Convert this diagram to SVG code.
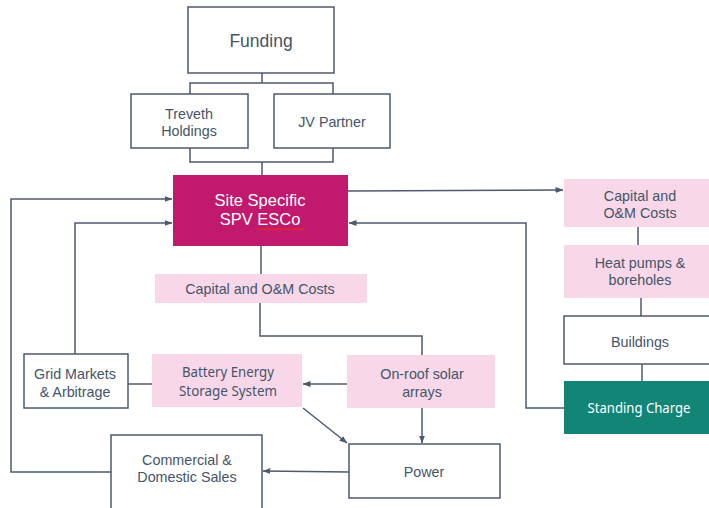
<svg xmlns="http://www.w3.org/2000/svg" width="709" height="508" viewBox="0 0 709 508">
  <style>
    .box { fill: #ffffff; stroke: #4d5a6e; stroke-width: 1.5; }
    .pink { fill: #f8d8e8; }
    .spv { fill: #c0196e; }
    .teal { fill: #138577; }
    .t { font-family: "Liberation Sans", Arial, sans-serif; font-size: 14.3px; fill: #44546a; text-anchor: middle; }
    .c { font-family: "Noto Sans", "Open Sans", sans-serif; font-size: 15px; fill: #44546a; text-anchor: middle; }
    .big { font-size: 17.5px; }
    .title { font-size: 16.5px; }
    .w { fill: #ffffff; }
    .ln { fill: none; stroke: #4d5a6e; stroke-width: 1.5; }
  </style>
  <defs>
    <marker id="arr" viewBox="0 0 8 8" refX="7.5" refY="4" markerWidth="8" markerHeight="8" markerUnits="userSpaceOnUse" orient="auto">
      <path d="M0,1 L8,4 L0,7 Z" fill="#4d5a6e"/>
    </marker>
  </defs>
  <rect width="709" height="508" fill="#ffffff"/>

  <!-- connectors -->
  <g id="connectors">
    <path class="ln" d="M262,73 V83 M190,94 V83 H333 V94"/>
    <path class="ln" d="M190,148 V162 H333 V148 M262,162 V175"/>
    <path class="ln" d="M261,246 V274"/>
    <path class="ln" d="M260,303 V336 H422 V355"/>
    <path class="ln" d="M348,191 L563,190" marker-end="url(#arr)"/>
    <path class="ln" d="M638,227 V245"/>
    <path class="ln" d="M641,298 V316"/>
    <path class="ln" d="M642,364 V381"/>
    <path class="ln" d="M564,408 H526 V223 H349" marker-end="url(#arr)"/>
    <path class="ln" d="M111,472 H11 V199 H172" marker-end="url(#arr)"/>
    <path class="ln" d="M75,354 V223 H172" marker-end="url(#arr)"/>
    <path class="ln" d="M128,384 H152"/>
    <path class="ln" d="M347,384 H303" marker-end="url(#arr)"/>
    <path class="ln" d="M422,408 V443" marker-end="url(#arr)"/>
    <path class="ln" d="M303,408 L347,443" marker-end="url(#arr)"/>
    <path class="ln" d="M349,472 L263,471" marker-end="url(#arr)"/>
  </g>

  <g id="funding">
    <rect class="box" x="188" y="7" width="146" height="66"/>
    <text class="t big" x="261" y="47">Funding</text>
  </g>
  <g id="treveth">
    <rect class="box" x="131" y="94" width="117" height="54"/>
    <text class="t" x="189" y="119">Treveth</text>
    <text class="t" x="189" y="136">Holdings</text>
  </g>
  <g id="jv-partner">
    <rect class="box" x="274" y="94" width="116" height="54"/>
    <text class="t" x="332" y="127">JV Partner</text>
  </g>
  <g id="spv-esco">
    <rect class="spv" x="173" y="175" width="175" height="71"/>
    <text class="t title w" x="260" y="206">Site Specific</text>
    <text class="t title w" x="260" y="225">SPV ESCo</text>
    <!-- spell-check squiggle under "ESCo" -->
    <path d="M257,230 l2,-1.6 l2,1.6 l2,-1.6 l2,1.6 l2,-1.6 l2,1.6 l2,-1.6 l2,1.6 l2,-1.6 l2,1.6 l2,-1.6 l2,1.6 l2,-1.6 l2,1.6 l2,-1.6 l2,1.6 l2,-1.6 l2,1.6 l2,-1.6 l2,1.6 l2,-1.6 l2,1.6 l2,-1.6 l2,1.6" fill="none" stroke="#e8262a" stroke-width="1.1"/>
  </g>
  <g id="capital-costs-site">
    <rect class="pink" x="155" y="274" width="212" height="29"/>
    <text class="t" x="260" y="294">Capital and O&amp;M Costs</text>
  </g>
  <g id="capital-costs-heat">
    <rect class="pink" x="564" y="179" width="150" height="48"/>
    <text class="t" x="640" y="201">Capital and</text>
    <text class="t" x="640" y="218">O&amp;M Costs</text>
  </g>
  <g id="heat-pumps">
    <rect class="pink" x="564" y="245" width="150" height="53"/>
    <text class="t" x="640" y="268">Heat pumps &amp;</text>
    <text class="t" x="640" y="285">boreholes</text>
  </g>
  <g id="buildings">
    <rect class="box" x="564" y="316" width="150" height="48"/>
    <text class="t" x="640" y="347">Buildings</text>
  </g>
  <g id="standing-charge">
    <rect class="teal" x="564" y="381" width="150" height="53"/>
    <text class="c w" x="639" y="413" textLength="103" lengthAdjust="spacingAndGlyphs">Standing Charge</text>
  </g>
  <g id="grid-markets">
    <rect class="box" x="24" y="354" width="104" height="54"/>
    <text class="t" x="75" y="379">Grid Markets</text>
    <text class="t" x="75" y="397">&amp; Arbitrage</text>
  </g>
  <g id="bess">
    <rect class="pink" x="152" y="354" width="150" height="53"/>
    <text class="c" x="228" y="377" textLength="92" lengthAdjust="spacingAndGlyphs">Battery Energy</text>
    <text class="c" x="228" y="396" textLength="98" lengthAdjust="spacingAndGlyphs">Storage System</text>
  </g>
  <g id="solar">
    <rect class="pink" x="347" y="355" width="148" height="53"/>
    <text class="t" x="422" y="379">On-roof solar</text>
    <text class="t" x="422" y="397">arrays</text>
  </g>
  <g id="power">
    <rect class="box" x="349" y="444" width="151" height="54"/>
    <text class="t" x="424" y="477">Power</text>
  </g>
  <g id="sales">
    <rect class="box" x="111" y="435" width="151" height="80"/>
    <text class="t" x="187" y="465">Commercial &amp;</text>
    <text class="t" x="187" y="482">Domestic Sales</text>
  </g>
</svg>
